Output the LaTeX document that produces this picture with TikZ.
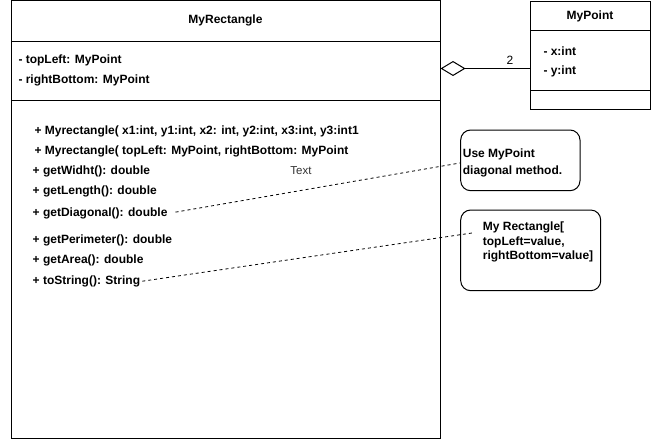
\documentclass[tikz,border=0pt]{standalone}
\usepackage{fontspec}
\setmainfont{Liberation Sans}
\usetikzlibrary{arrows.meta}
\begin{document}
\begin{tikzpicture}[x=1pt,y=-1pt,
  every node/.style={inner sep=0pt, font=\bfseries\fontsize{12}{14.4}\selectfont},
  umlbox/.style={draw, line width=1pt, minimum width=#1},
  txt/.style={anchor=west},
  notebox/.style={draw, line width=1pt, rounded corners=10pt},
  conn/.style={line width=0.8pt, dash pattern=on 3pt off 3pt},
  sep/.style={line width=1pt}]
\useasboundingbox (0,0) rectangle (651,439);
% class MyRectangle
\node[draw, line width=1pt, minimum width=429pt, minimum height=437.5pt] (rectbox) at (225.5,219.25) {};
\draw[sep] (11,41) -- (440,41);
\draw[sep] (11,100) -- (440,100);
\node (rtitle) at (225.5,20) {MyRectangle};
\node[txt] (a1) at (18.3,60.5) {- topLeft: MyPoint};
\node[txt] (a2) at (18.3,80.5) {- rightBottom: MyPoint};
\node[txt] (m1) at (34.3,131.7) {+ Myrectangle( x1:int, y1:int, x2: int, y2:int, x3:int, y3:int1};
\node[txt] (m2) at (34.3,151.7) {+ Myrectangle( topLeft: MyPoint, rightBottom: MyPoint};
\node[txt] (m3) at (32.5,171.5) {+ getWidht(): double};
\node[txt] (m4) at (32.5,191) {+ getLength(): double};
\node[txt] (m5) at (32.5,213.5) {+ getDiagonal(): double};
\node[txt] (m6) at (32.5,240) {+ getPerimeter(): double};
\node[txt] (m7) at (32.5,260) {+ getArea(): double};
\node[txt] (m8) at (32.5,281.5) {+ toString(): String};
\node[font=\fontsize{11.5}{13}\selectfont, text=black!80] (freetext) at (301,171) {Text};
% class MyPoint
\node[draw, line width=1pt, minimum width=120pt, minimum height=108pt] (pointbox) at (590,55) {};
\draw[sep] (530,30) -- (650,30);
\draw[sep] (530,90) -- (650,90);
\node (ptitle) at (590,16) {MyPoint};
\node[txt] (px) at (543.3,51.7) {- x:int};
\node[txt] (py) at (543.3,71) {- y:int};
% aggregation
\coordinate (agg) at (530,68.5);
\draw[line width=1pt, -{Diamond[open, length=25pt, width=15pt]}] (agg) -- (rectbox.east |- agg);
\node[font=\fontsize{12}{14}\selectfont] (mult) at (510,60) {2};
% notes
\node[notebox, minimum width=119.3pt, minimum height=60.7pt] (note1) at (520.35,160.35) {};
\node[txt] (n1a) at (462.7,154) {Use MyPoint};
\node[txt] (n1b) at (462.7,171.5) {diagonal method.};
\node[notebox, minimum width=140pt, minimum height=80.7pt] (note2) at (530.7,250.35) {};
\node[txt] (n2a) at (482.7,227.3) {My Rectangle[};
\node[txt] (n2b) at (482.7,242) {topLeft=value,};
\node[txt] (n2c) at (482.7,256.7) {rightBottom=value]};
% comment connectors
\draw[conn, shorten <=8pt] (m5.east) -- ([yshift=-2.6pt]note1.west);
\coordinate (n2end) at (472,233);
\draw[conn, shorten <=2pt] (m8.east) -- (n2end);
\end{tikzpicture}
\end{document}
